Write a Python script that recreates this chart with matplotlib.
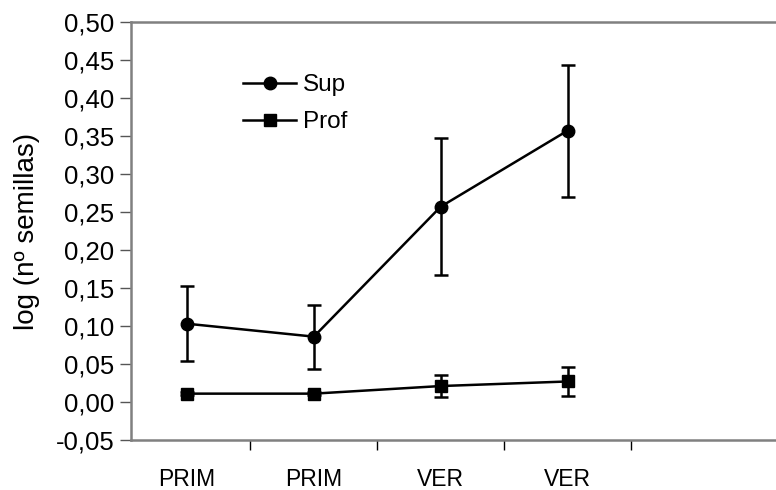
import matplotlib
matplotlib.use("Agg")
import matplotlib.pyplot as plt
from matplotlib.ticker import FuncFormatter, MultipleLocator
import numpy as np

plt.rcParams["font.family"] = ["Liberation Sans", "DejaVu Sans"]

categories = ["PRIM", "PRIM", "VER", "VER"]
sup = [0.103, 0.086, 0.257, 0.357]
sup_err = [0.049, 0.042, 0.090, 0.087]
prof = [0.011, 0.011, 0.021, 0.027]
prof_err = [0.002, 0.002, 0.014, 0.019]

x = np.arange(len(categories))

fig = plt.figure(figsize=(7.76, 4.9), dpi=100)
ax = fig.add_axes([131 / 776, 1 - 440 / 490, 1 - 131 / 776 + 0.001, 418 / 490])

c1 = ax.errorbar(x, sup, yerr=sup_err, color="black", marker="o", markersize=9,
                 linewidth=1.8, elinewidth=1.8, capsize=5, capthick=1.8)
c2 = ax.errorbar(x, prof, yerr=prof_err, color="black", marker="s", markersize=9,
                 linewidth=1.8, elinewidth=1.8, capsize=5, capthick=1.8)

ax.set_xlim(-0.442, 4.65)
ax.set_ylim(-0.05, 0.50)
ax.yaxis.set_major_locator(MultipleLocator(0.05))
ax.yaxis.set_major_formatter(FuncFormatter(lambda v, p: f"{v:.2f}".replace(".", ",").replace("-0,00", "0,00")))
ax.set_xticks(x)
ax.set_xticklabels(categories, fontsize=16.5)
ax.set_xticks(np.arange(len(categories)) + 0.5, minor=True)
ax.tick_params(axis="x", which="major", length=0, pad=20)
ax.tick_params(axis="x", which="minor", length=7, width=1, color="black")
ax.tick_params(axis="y", length=8, width=1, color="#555555", labelsize=18.5, pad=4)

for s in ["top", "left", "bottom"]:
    ax.spines[s].set_color("#808080")
    ax.spines[s].set_linewidth(1.8)
ax.spines["right"].set_visible(False)

ax.set_ylabel("log (nº semillas)", fontsize=20, labelpad=11)

ax.legend(handles=[c1.lines[0], c2.lines[0]], labels=["Sup", "Prof"],
          loc="upper left", bbox_to_anchor=(243 / 776, 1 - 74 / 490),
          bbox_transform=fig.transFigure, frameon=False, borderpad=0,
          borderaxespad=0, fontsize=17.5,
          handlelength=2.2, handletextpad=0.25, labelspacing=0.62)

fig.savefig("out.png", dpi=100)
